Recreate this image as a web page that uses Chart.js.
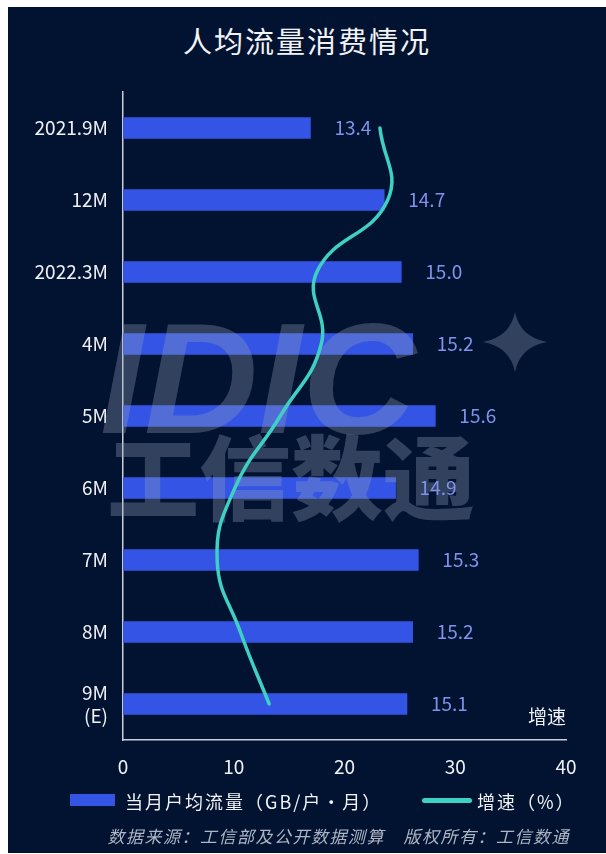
<!DOCTYPE html>
<html>
<head>
<meta charset="utf-8">
<script src="https://cdn.jsdelivr.net/npm/chart.js@4.4.1/dist/chart.umd.min.js"></script>
<style>
  html, body { margin: 0; padding: 0; background: #fff; }
  body { width: 606px; height: 854px; position: relative; overflow: hidden; font-family: "Noto Sans CJK SC", "Noto Sans", sans-serif; }
  .panel { position: absolute; left: 8px; top: 7px; width: 598px; height: 846px; background: #021331; }
  .title { position: absolute; left: 8px; width: 598px; top: 21px; text-align: center; color: #f2f3f6; font-size: 29px; letter-spacing: 2px; line-height: 38px; }
  #wrap { position: absolute; left: 0; top: 0; width: 606px; height: 790px; }
  .legend { position: absolute; top: 788px; left: 0; width: 606px; height: 26px; color: #f2f3f6; font-size: 18px; letter-spacing: 2px; line-height: 26px; }
  .legend span { position: absolute; white-space: nowrap; }
  .sw-bar { left: 70px; top: 6px; width: 45px; height: 12px; background: #3354e4; }
  .sw-line { left: 422px; top: 10px; width: 50px; height: 5px; border-radius: 3px; background: #3fd0c4; }
  .lt1 { left: 125px; top: 0; }
  .lt2 { left: 477px; top: 0; }
  .source { position: absolute; top: 824px; right: 36px; color: #aeb5c4; font-size: 17px; font-style: italic; letter-spacing: 1.5px; line-height: 24px; white-space: nowrap; }
</style>
</head>
<body>
<div class="panel"></div>
<div class="title">人均流量消费情况</div>
<div id="wrap"><canvas id="chart"></canvas></div>
<div class="legend">
  <span class="sw-bar"></span><span class="lt1">当月户均流量（GB/户・月）</span>
  <span class="sw-line"></span><span class="lt2">增速（%）</span>
</div>
<div class="source">数据来源：工信部及公开数据测算　版权所有：工信数通</div>
<script>
// categories
const months = ["2021.9M", "12M", "2022.3M", "4M", "5M", "6M", "7M", "8M", ["9M", "(E)"]];
// 当月户均流量 (GB/户·月)
const traffic = [13.4, 14.7, 15.0, 15.2, 15.6, 14.9, 15.3, 15.2, 15.1];
// 增速 (%)
const growth = [23.2, 23.9, 17.5, 17.9, 14.2, 10.1, 8.5, 10.6, 13.2];
// bottom axis ticks
const axisTicks = [0, 10, 20, 30, 40];

const textColor = "#eef0f4";
const axisColor = "#c9ced8";

const overlay = {
  id: "overlay",
  afterDatasetDraw(chart, args) {
    if (args.index !== 0) return;
    // watermark sits over the bars but under the line
    const ctx = chart.ctx;
    ctx.save();
    ctx.fillStyle = "rgba(150,160,185,0.33)";
    ctx.font = 'italic 900 158px "Liberation Sans"';
    ctx.textBaseline = "alphabetic";
    ctx.textAlign = "left";
    ctx.fillText("IDIC", 100, 433);
    ctx.font = '900 92px "Noto Sans CJK SC"';
    ctx.textBaseline = "middle";
    ctx.textAlign = "center";
    ctx.fillText("工信数通", 291, 478);
    // little four point star
    const cx = 515, cy = 342, rx = 32, ry = 30, k = 5;
    ctx.beginPath();
    ctx.moveTo(cx, cy - ry);
    ctx.quadraticCurveTo(cx + k, cy - k, cx + rx, cy);
    ctx.quadraticCurveTo(cx + k, cy + k, cx, cy + ry);
    ctx.quadraticCurveTo(cx - k, cy + k, cx - rx, cy);
    ctx.quadraticCurveTo(cx - k, cy - k, cx, cy - ry);
    ctx.fill();
    ctx.restore();
  },
  afterDatasetsDraw(chart) {
    const ctx = chart.ctx;
    const meta = chart.getDatasetMeta(0);
    ctx.save();
    ctx.fillStyle = "#7f93ea";
    ctx.font = '19px "Noto Sans CJK SC"';
    ctx.textAlign = "left";
    ctx.textBaseline = "middle";
    meta.data.forEach((bar, i) => {
      ctx.fillText(traffic[i].toFixed(1), bar.x + 24, bar.y);
    });
    const area = chart.chartArea;
    ctx.fillStyle = textColor;
    ctx.textAlign = "center";
    ctx.fillText("增速", area.right - 19, area.bottom - 23);
    ctx.restore();
  }
};

new Chart(document.getElementById("chart"), {
  data: {
    labels: months,
    datasets: [
      {
        type: "bar",
        label: "当月户均流量（GB/户・月）",
        data: traffic,
        xAxisID: "x2",
        backgroundColor: "#3354e4",
        barThickness: 21,
        order: 1
      },
      {
        type: "line",
        label: "增速（%）",
        data: growth,
        xAxisID: "x",
        borderColor: "#3fd0c4",
        borderWidth: 3.5,
        borderCapStyle: "round",
        pointRadius: 0,
        tension: 0.45,
        order: 0
      }
    ]
  },
  options: {
    indexAxis: "y",
    responsive: true,
    maintainAspectRatio: false,
    animation: false,
    layout: { padding: { top: 92, right: 40, left: 0, bottom: 0 } },
    plugins: {
      legend: { display: false },
      tooltip: { enabled: false }
    },
    scales: {
      y: {
        type: "category",
        grid: { display: false, drawTicks: false },
        border: { color: axisColor, width: 1.5 },
        ticks: { color: textColor, font: { family: "Noto Sans CJK SC", size: 19 }, padding: 15 },
        afterFit: (s) => { s.width = 123; }
      },
      x: {
        type: "linear",
        position: "bottom",
        min: 0,
        max: 40,
        afterBuildTicks: (s) => { s.ticks = axisTicks.map((v) => ({ value: v })); },
        grid: { display: false, drawTicks: false },
        border: { color: axisColor, width: 1.5 },
        ticks: { color: textColor, font: { family: "Noto Sans CJK SC", size: 19 }, padding: 15 },
        afterFit: (s) => { s.height = 50; }
      },
      x2: {
        type: "linear",
        display: false,
        min: 10.1,
        max: 17.9
      }
    }
  },
  plugins: [overlay]
});
</script>
</body>
</html>
